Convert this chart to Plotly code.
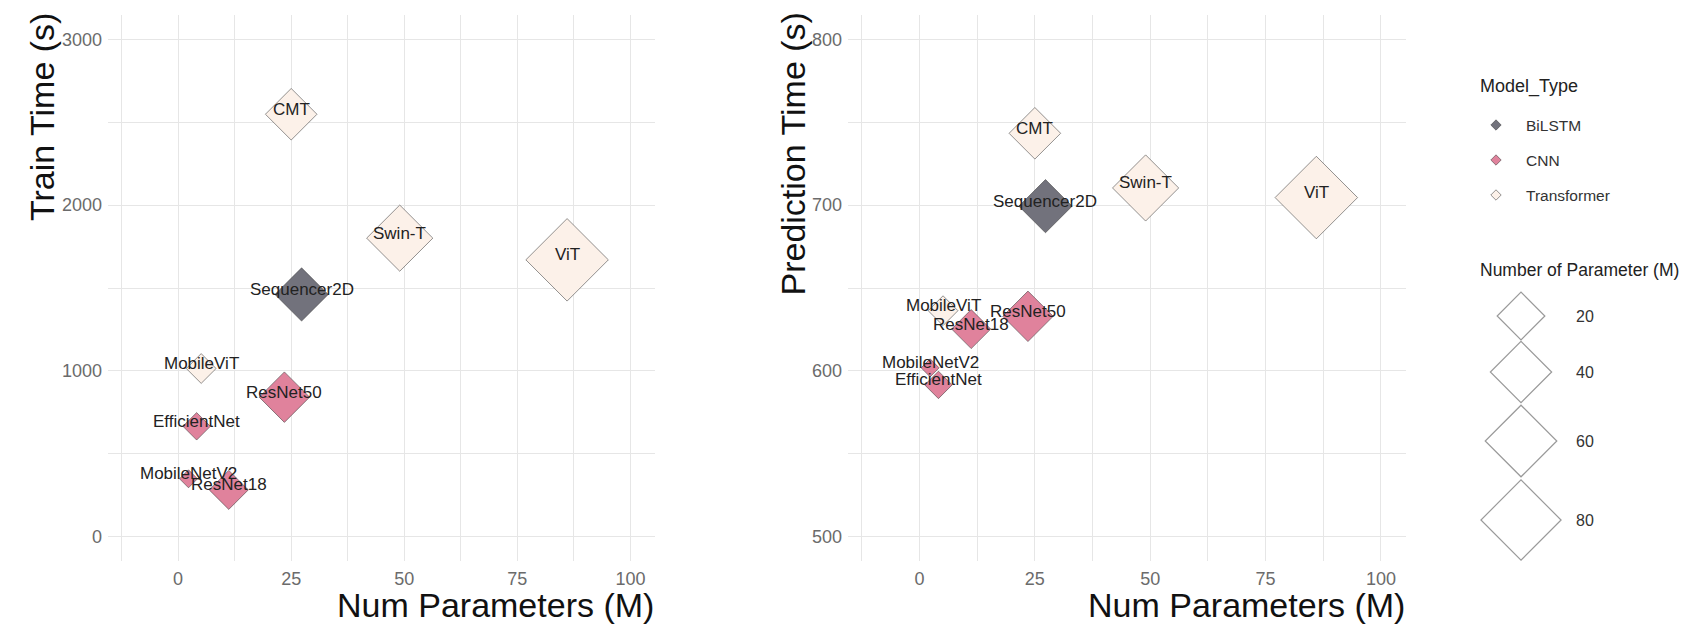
import numpy as np
import plotly.graph_objects as go

# ---------------- data ----------------
models = ["CMT", "Swin-T", "ViT", "Sequencer2D", "MobileViT",
          "ResNet50", "EfficientNet", "MobileNetV2", "ResNet18"]
model_type = ["Transformer", "Transformer", "Transformer", "BiLSTM", "Transformer",
              "CNN", "CNN", "CNN", "CNN"]
num_params = [25.0, 49.0, 86.0, 27.3, 5.1, 23.5, 4.1, 2.3, 11.2]
train_time = [2549, 1801, 1670, 1461, 1014, 841, 665, 348, 281]
pred_time = [743.4, 710.4, 704.6, 699.4, 636.3, 632.9, 591.5, 601.8, 625.2]

type_order = ["BiLSTM", "CNN", "Transformer"]
size_legend_values = [20, 40, 60, 80]
x_ticks = [0, 25, 50, 75, 100]
y1_ticks = [0, 1000, 2000, 3000]
y2_ticks = [500, 600, 700, 800]

# ---------------- style ----------------
W, H = 1697, 625
FONT = "Liberation Sans, Arial, Helvetica, sans-serif"
fill = {"BiLSTM": "#72727c", "CNN": "#e0829c", "Transformer": "#fcf1e9"}
outline = "rgba(60,60,60,0.55)"
GRID = "#e6e6e6"
TICKC = "#6b6b6b"

pmin, pmax = min(num_params), max(num_params)


def marker_px(p):
    # area-style size scale (width of the diamond in px) -> plotly size
    t = np.sqrt((np.asarray(p, float) - pmin) / (pmax - pmin))
    width = 18.0 + 64.5 * t
    return width / 1.3


def px_x(px):
    return px / W


def px_y(py):
    return 1 - py / H


fig = go.Figure()

for xa, ya, yvals in [("x", "y", train_time), ("x2", "y2", pred_time)]:
    for t in type_order:
        idx = [i for i, m in enumerate(model_type) if m == t]
        fig.add_trace(go.Scatter(
            x=[num_params[i] for i in idx],
            y=[yvals[i] for i in idx],
            mode="markers",
            xaxis=xa, yaxis=ya,
            marker=dict(symbol="diamond", size=marker_px([num_params[i] for i in idx]),
                        opacity=1, color=fill[t], line=dict(color=outline, width=1)),
            showlegend=False, hoverinfo="skip", cliponaxis=False,
        ))
    for i, name in enumerate(models):
        fig.add_annotation(x=num_params[i], y=yvals[i], xref=xa, yref=ya, text=name,
                           showarrow=False, yshift=5,
                           font=dict(family=FONT, size=17, color="#222222"))

# ---------------- legend (manual) on a pixel overlay axis ----------------
key_y = [117, 152, 187]
fig.add_trace(go.Scatter(
    x=[1488] * 3, y=key_y, mode="markers", xaxis="x3", yaxis="y3",
    marker=dict(symbol="diamond", size=8, opacity=1, color=[fill[t] for t in type_order],
                line=dict(color=outline, width=1)),
    showlegend=False, hoverinfo="skip"))
for t, yy in zip(type_order, key_y):
    fig.add_annotation(x=1516, y=yy, xref="x3", yref="y3", text=t, showarrow=False,
                       xanchor="left", yanchor="middle",
                       font=dict(family=FONT, size=15.5, color="#333333"))
fig.add_annotation(x=1470, y=78, xref="x3", yref="y3", text="Model_Type", showarrow=False,
                   xanchor="left", yanchor="middle",
                   font=dict(family=FONT, size=18, color="#222222"))

size_key_y = [308, 364, 433, 512]
fig.add_trace(go.Scatter(
    x=[1513] * 4, y=size_key_y, mode="markers", xaxis="x3", yaxis="y3",
    marker=dict(symbol="diamond", size=marker_px(size_legend_values), opacity=1,
                color="rgba(255,255,255,0)", line=dict(color="#9a9a9a", width=1.2)),
    showlegend=False, hoverinfo="skip"))
for v, yy in zip(size_legend_values, size_key_y):
    fig.add_annotation(x=1566, y=yy, xref="x3", yref="y3", text=str(v), showarrow=False,
                       xanchor="left", yanchor="middle",
                       font=dict(family=FONT, size=16, color="#333333"))
fig.add_annotation(x=1470, y=262, xref="x3", yref="y3", text="Number of Parameter (M)",
                   showarrow=False, xanchor="left", yanchor="middle",
                   font=dict(family=FONT, size=17.5, color="#222222"))

# ---------------- axis titles ----------------
title_font = dict(family=FONT, size=34, color="#111111")
fig.add_annotation(x=px_x(34), y=px_y(3), xref="paper", yref="paper", text="Train Time (s)",
                   textangle=-90, showarrow=False, xanchor="center", yanchor="top", font=title_font)
fig.add_annotation(x=px_x(784), y=px_y(3), xref="paper", yref="paper", text="Prediction Time (s)",
                   textangle=-90, showarrow=False, xanchor="center", yanchor="top", font=title_font)
fig.add_annotation(x=px_x(648), y=px_y(597), xref="paper", yref="paper", text="Num Parameters (M)",
                   showarrow=False, xanchor="right", yanchor="middle", font=title_font)
fig.add_annotation(x=px_x(1399), y=px_y(597), xref="paper", yref="paper", text="Num Parameters (M)",
                   showarrow=False, xanchor="right", yanchor="middle", font=title_font)

# ---------------- axes ----------------
tickfont = dict(family=FONT, size=18, color=TICKC)
common_x = dict(range=[-15.5, 105.5], tickvals=x_ticks, showgrid=True, gridcolor=GRID, gridwidth=1.4,
                zeroline=False, showline=False, ticks="", tickfont=tickfont, automargin=False,
                ticklabelstandoff=5, fixedrange=True,
                minor=dict(tick0=12.5, dtick=25, showgrid=True, gridcolor=GRID, gridwidth=1.4))
ydom = [px_y(553.3), px_y(6.7)]
fig.update_layout(
    width=W, height=H,
    margin=dict(l=0, r=0, t=0, b=0),
    paper_bgcolor="white", plot_bgcolor="rgba(0,0,0,0)",
    showlegend=False,
    xaxis=dict(domain=[px_x(100), px_x(647.3)], anchor="y", **common_x),
    xaxis2=dict(domain=[px_x(840), px_x(1398.3)], anchor="y2", **common_x),
    yaxis=dict(domain=ydom, anchor="x", range=[-150, 3150], tickvals=y1_ticks,
               showgrid=True, gridcolor=GRID, gridwidth=1.4, zeroline=False, showline=False,
               ticks="", tickfont=tickfont, automargin=False, ticklabelstandoff=5, fixedrange=True,
               minor=dict(tick0=500, dtick=1000, showgrid=True, gridcolor=GRID, gridwidth=1.4)),
    yaxis2=dict(domain=ydom, anchor="x2", range=[485, 815], tickvals=y2_ticks,
                showgrid=True, gridcolor=GRID, gridwidth=1.4, zeroline=False, showline=False,
                ticks="", tickfont=tickfont, automargin=False, ticklabelstandoff=5, fixedrange=True,
                minor=dict(tick0=550, dtick=100, showgrid=True, gridcolor=GRID, gridwidth=1.4)),
    xaxis3=dict(domain=[0, 1], range=[0, W], visible=False, anchor="y3", fixedrange=True),
    yaxis3=dict(domain=[0, 1], range=[H, 0], visible=False, anchor="x3", fixedrange=True),
)

fig.write_html("out.html")
